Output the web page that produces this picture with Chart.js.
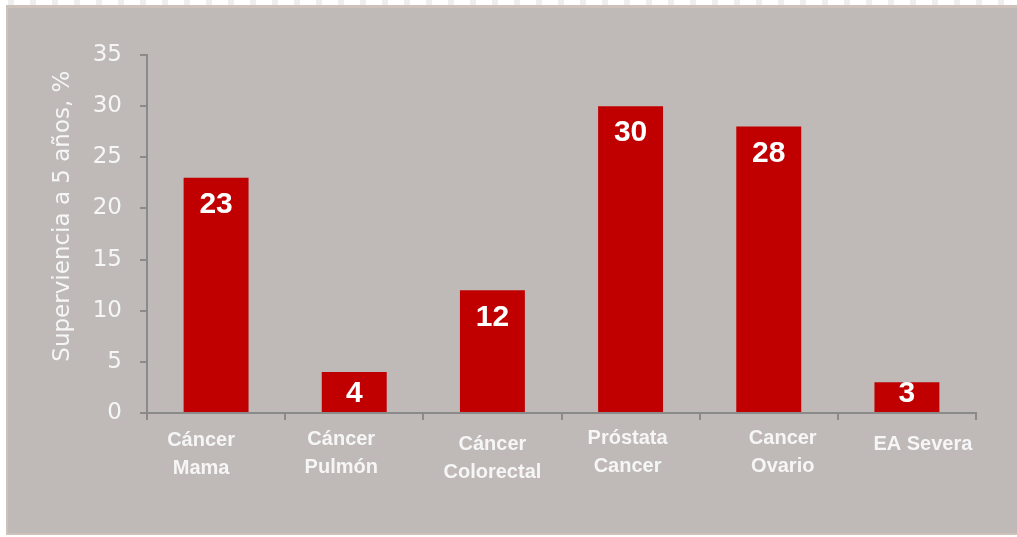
<!DOCTYPE html>
<html lang="es">
<head>
<meta charset="utf-8">
<title>Supervivencia a 5 años</title>
<script src="https://cdn.jsdelivr.net/npm/chart.js@4.4.1/dist/chart.umd.min.js"></script>
<style>
  html, body { margin: 0; padding: 0; width: 1017px; height: 537px; overflow: hidden; background: #ffffff; }
  #strip {
    position: absolute; left: 0; top: 0; width: 1017px; height: 5px;
    background: repeating-linear-gradient(90deg, #ffffff 0 8px, #eeeeee 8px 14px, #ffffff 14px 22px);
  }
  #panel {
    position: absolute; left: 6px; top: 5px; width: 1011px; height: 530px;
    box-sizing: border-box; background: #bfb9b8;
    border-top: 3px solid #cdc1b9; border-left: 2px solid #cdc1b9; border-bottom: 2px solid #cdc1b9;
  }
  #chart { position: absolute; left: 0; top: 0; }
</style>
</head>
<body>
<div id="strip"></div>
<div id="panel"></div>
<canvas id="chart" width="1017" height="537"></canvas>
<script>
// Five-year survival (%) by condition
const categories = [
  ['Cáncer', 'Mama'],
  ['Cáncer', 'Pulmón'],
  ['Cáncer', 'Colorectal'],
  ['Próstata', 'Cancer'],
  ['Cancer', 'Ovario'],
  ['EA Severa']
];
const survival = [23, 4, 12, 30, 28, 3];
const yTicks = [0, 5, 10, 15, 20, 25, 30, 35];
const yTitle = 'Superviencia a 5 años, %';

// Small nudges of each category label relative to its tick
const labelShiftX = [-15, -13, 0, -3, 14, 16];
const labelShiftY = [0, -1, 4, -2, -2, 4];

const AXIS_GREY = '#8a8a8a';
const LABEL_WHITE = '#f6f6f6';
const CAT_FONT = 'bold 20px "Liberation Sans", Arial, sans-serif';
const CAT_LINE = 28;

// Value labels inside bars, category labels under the axis, rotated y title
const annotations = {
  id: 'annotations',
  afterDatasetsDraw(chart) {
    const ctx = chart.ctx;
    const meta = chart.getDatasetMeta(0);
    ctx.save();
    ctx.font = 'bold 30px "Liberation Sans", Arial, sans-serif';
    ctx.fillStyle = '#ffffff';
    ctx.textAlign = 'center';
    ctx.textBaseline = 'middle';
    meta.data.forEach((bar, i) => {
      const y = Math.min(bar.y + 27, bar.base - 18);
      ctx.fillText(String(survival[i]), bar.x, y);
    });
    ctx.restore();
  },
  afterDraw(chart) {
    const ctx = chart.ctx;
    const xs = chart.scales.x;
    const area = chart.chartArea;
    ctx.save();
    ctx.font = CAT_FONT;
    ctx.fillStyle = LABEL_WHITE;
    ctx.textAlign = 'center';
    ctx.textBaseline = 'middle';
    categories.forEach((lines, i) => {
      const cx = xs.getPixelForValue(i) + labelShiftX[i];
      const top = xs.top + 27 + labelShiftY[i];
      lines.forEach((ln, k) => ctx.fillText(ln, cx, top + k * CAT_LINE));
    });
    ctx.restore();

    ctx.save();
    ctx.font = '23px "DejaVu Sans", sans-serif';
    ctx.fillStyle = LABEL_WHITE;
    ctx.textAlign = 'center';
    ctx.textBaseline = 'middle';
    ctx.translate(63, area.top + (area.bottom - area.top) * 0.45);
    ctx.rotate(-Math.PI / 2);
    ctx.fillText(yTitle, 0, 0);
    ctx.restore();
  }
};

new Chart(document.getElementById('chart'), {
  type: 'bar',
  data: {
    labels: categories,
    datasets: [{
      data: survival,
      backgroundColor: '#c00000',
      borderWidth: 0,
      categoryPercentage: 1,
      barPercentage: 0.47
    }]
  },
  options: {
    responsive: false,
    devicePixelRatio: 1,
    animation: false,
    events: [],
    layout: { padding: { top: 55, right: 41, left: 0, bottom: 0 } },
    plugins: { legend: { display: false }, tooltip: { enabled: false } },
    scales: {
      x: {
        offset: true,
        grid: {
          offset: true,
          drawOnChartArea: false,
          drawTicks: true,
          tickLength: 7,
          color: AXIS_GREY,
          lineWidth: 2
        },
        border: { display: true, color: AXIS_GREY, width: 2 },
        ticks: { display: false },
        afterFit(scale) { scale.height = 124; }
      },
      y: {
        min: 0,
        max: 35,
        afterBuildTicks(scale) { scale.ticks = yTicks.map(v => ({ value: v })); },
        grid: {
          drawOnChartArea: false,
          drawTicks: true,
          tickLength: 7,
          color: AXIS_GREY,
          lineWidth: 2
        },
        border: { display: true, color: AXIS_GREY, width: 2 },
        ticks: {
          color: LABEL_WHITE,
          font: { family: '"DejaVu Sans", sans-serif', size: 23 },
          padding: 18
        },
        afterFit(scale) { scale.width = 147; }
      }
    }
  },
  plugins: [annotations]
});
</script>
</body>
</html>
